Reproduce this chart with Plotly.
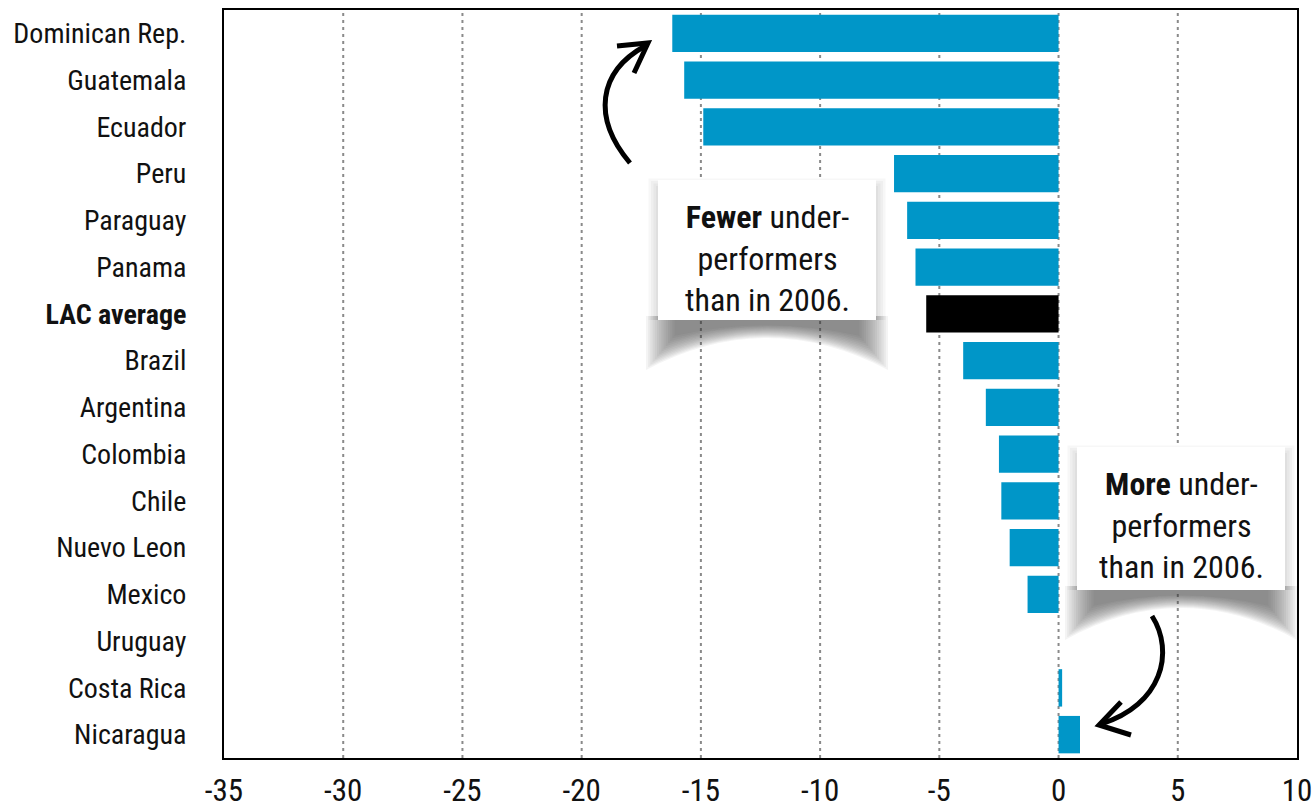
import plotly.graph_objects as go

countries = ["Dominican Rep.", "Guatemala", "Ecuador", "Peru", "Paraguay", "Panama",
             "LAC average", "Brazil", "Argentina", "Colombia", "Chile", "Nuevo Leon",
             "Mexico", "Uruguay", "Costa Rica", "Nicaragua"]
change = [-16.2, -15.7, -14.9, -6.9, -6.35, -6.0, -5.55, -4.0, -3.05, -2.5, -2.4,
          -2.05, -1.3, 0.0, 0.15, 0.9]
x_ticks = [-35, -30, -25, -20, -15, -10, -5, 0, 5, 10]

BLUE = "#0096c8"
bar_colors = ["#000000" if c == "LAC average" else BLUE for c in countries]
tick_text = ["<b>%s</b>" % c if c == "LAC average" else c for c in countries]

W, H = 1316, 809
ML, MR, MT, MB = 224, 19, 10, 51
PW, PH = W - ML - MR, H - MT - MB
FONT = "Liberation Sans Narrow, Roboto Condensed, Arial Narrow, sans-serif"


def px(x):
    return (x - ML) / PW


def py(y):
    return 1 - (y - MT) / PH


def pt(x, y):
    return "%.5f,%.5f" % (px(x), py(y))


fig = go.Figure()
fig.add_trace(go.Bar(
    y=countries, x=change, orientation="h", marker_color=bar_colors,
    marker_line_width=0, width=0.8, showlegend=False, hoverinfo="x+y",
))

shapes = []
# dashed vertical guides
for v in x_ticks[1:-1]:
    shapes.append(dict(type="line", xref="x", yref="paper", x0=v, x1=v, y0=0, y1=1,
                       line=dict(color="#8a8a8a", width=2, dash="3px,4px"), layer="below"))


def callout(x0, y0, x1, y1):
    # soft curled shadow under the box, built from stacked translucent layers
    cx = (x0 + x1) / 2
    n = 14
    for i in range(n):
        d = i * 2.2
        top = y1 - 4
        bot = y1 + 50 - d * 1.2
        left = x0 - 12 + d
        right = x1 + 12 - d
        path = ("M " + pt(left, top) + " L " + pt(right, top) + " L " + pt(right, bot) +
                " Q " + pt(cx, y1 - 14 + d * 0.3) + " " + pt(left, bot) + " Z")
        shapes.append(dict(type="path", xref="paper", yref="paper", path=path,
                           fillcolor="rgba(50,50,50,0.055)", line=dict(width=0), layer="above"))
    # faint glow along the sides
    for i in range(4):
        d = 2 + i * 2.5
        shapes.append(dict(type="rect", xref="paper", yref="paper",
                           x0=px(x0 - d), x1=px(x1 + d), y0=py(y1), y1=py(y0 - d + 8),
                           fillcolor="rgba(0,0,0,0.03)", line=dict(width=0), layer="above"))
    shapes.append(dict(type="rect", xref="paper", yref="paper",
                       x0=px(x0), x1=px(x1), y0=py(y1), y1=py(y0),
                       fillcolor="white", line=dict(width=0), layer="above"))


callout(658, 180, 876, 320)
callout(1077, 447, 1285, 590)

# curved arrows
arrow_style = dict(color="black", width=5)
shapes.append(dict(type="path", xref="paper", yref="paper",
                   path="M " + pt(630, 163) + " C " + pt(592, 118) + " " + pt(598, 72) + " " + pt(645, 46),
                   line=arrow_style, layer="above"))
shapes.append(dict(type="path", xref="paper", yref="paper",
                   path="M " + pt(617, 46) + " L " + pt(648, 43) + " L " + pt(634, 73),
                   line=arrow_style, layer="above"))
shapes.append(dict(type="path", xref="paper", yref="paper",
                   path="M " + pt(1152, 616) + " C " + pt(1175, 652) + " " + pt(1162, 705) + " " + pt(1101, 724),
                   line=arrow_style, layer="above"))
shapes.append(dict(type="path", xref="paper", yref="paper",
                   path="M " + pt(1121, 702) + " L " + pt(1099, 725) + " L " + pt(1131, 735),
                   line=arrow_style, layer="above"))

annotations = [
    dict(xref="paper", yref="paper", x=px(767), y=py(258), xanchor="center", yanchor="middle",
         text="<b>Fewer</b> under-<br>performers<br>than in 2006.", showarrow=False,
         font=dict(family=FONT, size=32, color="#111111"), align="center"),
    dict(xref="paper", yref="paper", x=px(1181), y=py(525), xanchor="center", yanchor="middle",
         text="<b>More</b> under-<br>performers<br>than in 2006.", showarrow=False,
         font=dict(family=FONT, size=32, color="#111111"), align="center"),
]

fig.update_layout(
    width=W, height=H,
    margin=dict(l=ML, r=MR, t=MT, b=MB, pad=0, autoexpand=False),
    paper_bgcolor="white", plot_bgcolor="white",
    shapes=shapes, annotations=annotations,
    bargap=0.2,
    font=dict(family=FONT, color="#111111"),
    xaxis=dict(range=[-35, 10], tickvals=x_ticks, ticktext=[str(t) for t in x_ticks],
               showgrid=False, zeroline=False, showline=True, mirror=True, automargin=False,
               linecolor="black", linewidth=2, ticks="", ticklabelstandoff=4,
               tickfont=dict(family=FONT, size=31, color="#111111")),
    yaxis=dict(categoryorder="array", categoryarray=countries, autorange="reversed",
               tickvals=countries, ticktext=tick_text, automargin=False,
               showgrid=False, zeroline=False, showline=True, mirror=True,
               linecolor="black", linewidth=2, ticks="", ticklabelstandoff=30,
               tickfont=dict(family=FONT, size=28, color="#111111")),
)

fig.write_html("out.html")
